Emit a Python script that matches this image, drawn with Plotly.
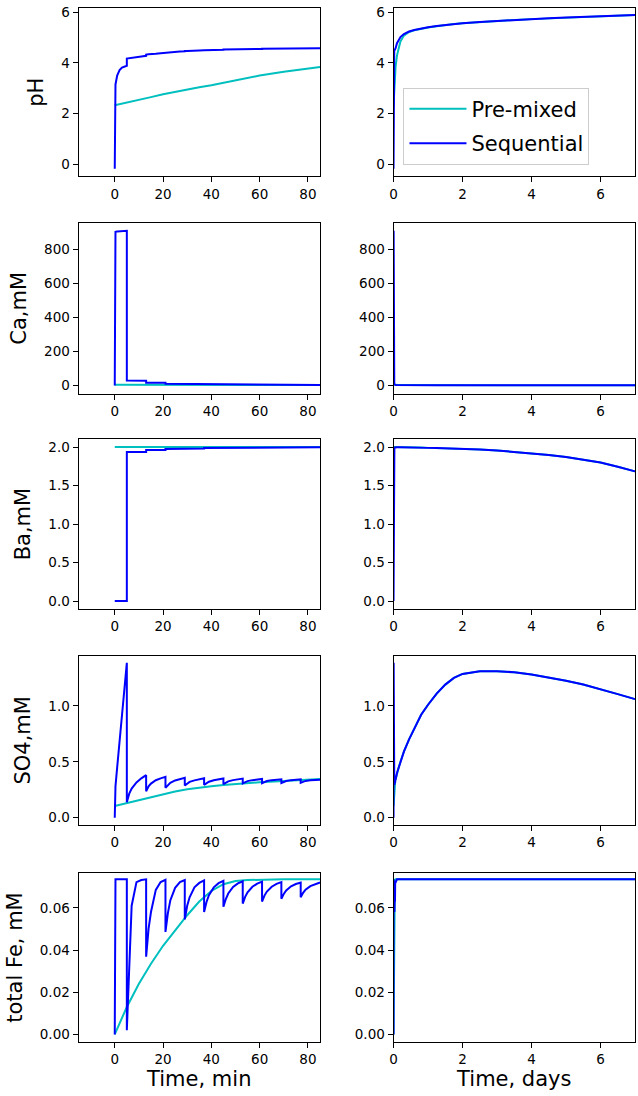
import plotly.graph_objects as go

# ---------------- data ----------------
# Pre-mixed, first 85 minutes
t_pm = [0, 5, 10, 15, 20, 25, 30, 35, 40, 45, 50, 55, 60, 70, 80, 85]
ph_pm = [2.33, 2.43, 2.54, 2.65, 2.76, 2.86, 2.95, 3.04, 3.12, 3.22, 3.31, 3.41, 3.50, 3.65, 3.78, 3.84]
ca_pm = [4.5, 4.4, 4.2, 4.0, 3.8, 3.6, 3.4, 3.2, 3.0, 2.9, 2.8, 2.7, 2.6, 2.4, 2.2, 2.1]
ba_pm = [2.0, 2.0, 2.0, 2.0, 2.0, 2.0, 2.0, 2.0, 2.0, 2.0, 2.0, 2.0, 2.0, 2.0, 2.0, 2.0]
so4_pm = [0.104, 0.13, 0.155, 0.185, 0.213, 0.235, 0.255, 0.27, 0.282, 0.293, 0.302, 0.31, 0.316, 0.328, 0.34, 0.345]
fe_pm = [0.0, 0.013, 0.024, 0.0335, 0.042, 0.0495, 0.0565, 0.063, 0.068, 0.0712, 0.0727, 0.0732, 0.0734, 0.0735, 0.0735, 0.0735]

# Sequential, first 85 minutes (injections every 8 min from t = 5)
t_seq = [0, 0.02, 0.3, 1, 2, 3, 4, 5,
         5, 6, 7, 9, 11, 13,
         13, 14, 15, 17, 19, 21,
         21, 22, 23, 25, 27, 29,
         29, 30, 31, 33, 35, 37,
         37, 38, 39, 41, 43, 45,
         45, 46, 47, 49, 51, 53,
         53, 54, 55, 57, 59, 61,
         61, 62, 63, 65, 67, 69,
         69, 70, 71, 73, 75, 77,
         77, 78, 79, 81, 83, 85]
ph_seq = [-0.18, 1.0, 3.15, 3.5, 3.72, 3.82, 3.86, 3.89,
          4.17, 4.18, 4.19, 4.22, 4.25, 4.28,
          4.33, 4.34, 4.34, 4.36, 4.38, 4.40,
          4.42, 4.42, 4.43, 4.44, 4.45, 4.46,
          4.47, 4.47, 4.47, 4.48, 4.49, 4.50,
          4.50, 4.50, 4.51, 4.51, 4.52, 4.52,
          4.53, 4.53, 4.53, 4.54, 4.54, 4.54,
          4.55, 4.55, 4.55, 4.55, 4.55, 4.55,
          4.56, 4.56, 4.56, 4.56, 4.56, 4.56,
          4.57, 4.57, 4.57, 4.57, 4.57, 4.57,
          4.58, 4.58, 4.58, 4.58, 4.58, 4.58]
ca_seq = [0, 897, 901, 903, 905, 906, 907, 907,
          29, 28.8, 28.6, 28.3, 28.0, 27.7,
          16, 15.8, 15.7, 15.5, 15.2, 15.0,
          10, 9.9, 9.9, 9.8, 9.7, 9.6,
          7.0, 6.9, 6.9, 6.8, 6.8, 6.7,
          5.5, 5.5, 5.4, 5.4, 5.3, 5.3,
          4.5, 4.5, 4.4, 4.4, 4.3, 4.3,
          3.8, 3.8, 3.7, 3.7, 3.6, 3.6,
          3.3, 3.3, 3.2, 3.2, 3.1, 3.1,
          2.9, 2.9, 2.8, 2.8, 2.7, 2.7,
          2.6, 2.6, 2.5, 2.5, 2.4, 2.4]
ba_seq = [0, 0, 0, 0, 0, 0, 0, 0,
          1.935, 1.935, 1.935, 1.935, 1.935, 1.935,
          1.962, 1.962, 1.962, 1.962, 1.962, 1.962,
          1.975, 1.975, 1.975, 1.975, 1.975, 1.975,
          1.983, 1.983, 1.983, 1.983, 1.983, 1.983,
          1.988, 1.988, 1.988, 1.988, 1.988, 1.988,
          1.991, 1.991, 1.991, 1.991, 1.991, 1.991,
          1.993, 1.993, 1.993, 1.993, 1.993, 1.993,
          1.995, 1.995, 1.995, 1.995, 1.995, 1.995,
          1.996, 1.996, 1.996, 1.996, 1.996, 1.996,
          1.997, 1.997, 1.997, 1.997, 1.997, 1.997]
so4_seq = [0, 0.2, 0.28, 0.45, 0.70, 0.94, 1.17, 1.385,
           0.139, 0.215, 0.26, 0.315, 0.352, 0.38,
           0.237, 0.28, 0.305, 0.335, 0.352, 0.365,
           0.267, 0.295, 0.312, 0.333, 0.347, 0.356,
           0.288, 0.308, 0.32, 0.334, 0.345, 0.353,
           0.294, 0.312, 0.322, 0.335, 0.344, 0.35,
           0.30, 0.316, 0.325, 0.336, 0.344, 0.35,
           0.306, 0.319, 0.327, 0.336, 0.343, 0.347,
           0.309, 0.321, 0.328, 0.336, 0.341, 0.344,
           0.31, 0.322, 0.328, 0.336, 0.341, 0.344,
           0.312, 0.323, 0.329, 0.335, 0.338, 0.34]
fe_seq = [0, 0.0735, 0.0735, 0.0735, 0.0735, 0.0735, 0.0735, 0.0735,
          0.002, 0.032, 0.061, 0.0722, 0.0732, 0.0735,
          0.0368, 0.05, 0.058, 0.0685, 0.0722, 0.0733,
          0.0486, 0.0575, 0.0635, 0.0695, 0.0722, 0.0732,
          0.0545, 0.061, 0.065, 0.0697, 0.0718, 0.073,
          0.058, 0.0628, 0.066, 0.0697, 0.0717, 0.0728,
          0.0605, 0.0642, 0.0668, 0.0699, 0.0716, 0.0726,
          0.062, 0.0652, 0.0674, 0.07, 0.0715, 0.0724,
          0.063, 0.0658, 0.0677, 0.07, 0.0714, 0.0722,
          0.0643, 0.0666, 0.0682, 0.0702, 0.0713, 0.072,
          0.065, 0.0671, 0.0686, 0.0703, 0.0713, 0.072]

# Long-term, days
t_day = [0.1, 0.15, 0.2, 0.3, 0.45, 0.6, 0.8, 1.0, 1.25, 1.5, 1.75, 2.0, 2.5, 3.0,
         3.5, 4.0, 4.5, 5.0, 5.5, 6.0, 6.5, 7.0]
ph_seq_d = [4.78, 4.93, 5.02, 5.14, 5.24, 5.30, 5.36, 5.41, 5.46, 5.50, 5.54, 5.57, 5.62, 5.66,
            5.70, 5.73, 5.76, 5.79, 5.82, 5.84, 5.87, 5.89]
ph_pm_d = [4.30, 4.65, 4.85, 5.08, 5.22, 5.29, 5.35, 5.40, 5.45, 5.50, 5.54, 5.57, 5.62, 5.66,
           5.70, 5.73, 5.76, 5.79, 5.82, 5.84, 5.87, 5.89]
ca_seq_d = [2.2, 2.1, 2.0, 1.9, 1.8, 1.7, 1.7, 1.6, 1.6, 1.6, 1.5, 1.5, 1.5, 1.5,
            1.5, 1.5, 1.5, 1.5, 1.5, 1.5, 1.5, 1.5]
ca_pm_d = [1.9, 1.8, 1.8, 1.7, 1.7, 1.6, 1.6, 1.6, 1.6, 1.5, 1.5, 1.5, 1.5, 1.5,
           1.5, 1.5, 1.5, 1.5, 1.5, 1.5, 1.5, 1.5]
ba_d = [1.998, 1.998, 1.997, 1.997, 1.996, 1.996, 1.994, 1.99, 1.988, 1.986, 1.983, 1.98, 1.97, 1.957,
        1.94, 1.92, 1.897, 1.87, 1.837, 1.80, 1.745, 1.685]
so4_d = [0.40, 0.45, 0.50, 0.59, 0.70, 0.80, 0.92, 1.01, 1.11, 1.19, 1.25, 1.285, 1.31, 1.31,
         1.30, 1.28, 1.255, 1.225, 1.19, 1.15, 1.105, 1.06]
fe_d = [0.0735, 0.0735, 0.0735, 0.0735, 0.0735, 0.0735, 0.0735, 0.0735, 0.0735, 0.0735, 0.0735,
        0.0735, 0.0735, 0.0735, 0.0735, 0.0735, 0.0735, 0.0735, 0.0735, 0.0735, 0.0735, 0.0735]

y_titles = ["pH", "Ca,mM", "Ba,mM", "SO4,mM", "total Fe, mM"]
y_ranges = [[-0.48, 6.17], [-48, 952], [-0.1, 2.1], [-0.065, 1.449], [-0.0037, 0.0766]]
y_ticks = [[0, 2, 4, 6], [0, 200, 400, 600, 800], [0, 0.5, 1.0, 1.5, 2.0], [0, 0.5, 1.0], [0, 0.02, 0.04, 0.06]]
y_fmt = ["d", "d", ".1f", ".1f", ".2f"]
x_ticks_min = [0, 20, 40, 60, 80]
x_ticks_day = [0, 2, 4, 6]

pm_early = [ph_pm, ca_pm, ba_pm, so4_pm, fe_pm]
seq_early = [ph_seq, ca_seq, ba_seq, so4_seq, fe_seq]
pm_long = [ph_pm_d, ca_pm_d, ba_d, so4_d, fe_d]
seq_long = [ph_seq_d, ca_seq_d, ba_d, so4_d, fe_d]

CYAN = "#00BFBF"
BLUE = "#0000FF"
FONT = "DejaVu Sans"
W, H = 638, 1096

fig = go.Figure()

tops = [4, 220, 437, 654, 872]
bots = [173, 391, 607, 824, 1042]
xcols = [(75, 318), (392, 635)]

t_pm_days = [t / 1440 for t in t_pm]
t_seq_days = [t / 1440 for t in t_seq]

layout = {}
for r in range(5):
    for c in range(2):
        idx = r * 2 + c + 1
        xa = "x" if idx == 1 else f"x{idx}"
        ya = "y" if idx == 1 else f"y{idx}"
        if c == 0:
            fig.add_trace(go.Scatter(x=t_pm, y=pm_early[r], mode="lines", name="Pre-mixed",
                                     line=dict(color=CYAN, width=2), xaxis=xa, yaxis=ya,
                                     showlegend=False))
            fig.add_trace(go.Scatter(x=t_seq, y=seq_early[r], mode="lines", name="Sequential",
                                     line=dict(color=BLUE, width=2), xaxis=xa, yaxis=ya,
                                     showlegend=False))
        else:
            fig.add_trace(go.Scatter(x=t_pm_days + t_day, y=pm_early[r] + pm_long[r], mode="lines",
                                     name="Pre-mixed", line=dict(color=CYAN, width=2),
                                     legendgroup="a",
                                     xaxis=xa, yaxis=ya, showlegend=(r == 0)))
            fig.add_trace(go.Scatter(x=t_seq_days + t_day, y=seq_early[r] + seq_long[r], mode="lines",
                                     name="Sequential", line=dict(color=BLUE, width=2),
                                     legendgroup="b",
                                     xaxis=xa, yaxis=ya, showlegend=(r == 0)))
        common = dict(showline=True, mirror=True, linecolor="black", linewidth=1,
                      ticks="outside", ticklen=5, tickwidth=1, tickcolor="black",
                      showgrid=False, zeroline=False,
                      tickfont=dict(family=FONT, size=13.5, color="black"))
        xkey = "xaxis" if idx == 1 else f"xaxis{idx}"
        ykey = "yaxis" if idx == 1 else f"yaxis{idx}"
        x0, x1 = xcols[c]
        xd = dict(common, domain=[x0 / W, x1 / W], anchor=ya)
        if c == 0:
            xd.update(range=[-15, 85], tickvals=x_ticks_min)
        else:
            xd.update(range=[0, 7], tickvals=x_ticks_day)
        if r == 4:
            xd["title"] = dict(text="Time, min" if c == 0 else "Time, days",
                               font=dict(family=FONT, size=21, color="black"), standoff=4)
        yd = dict(common, domain=[1 - bots[r] / H, 1 - tops[r] / H], anchor=xa,
                  range=y_ranges[r], tickvals=y_ticks[r], tickformat=y_fmt[r])
        if c == 0:
            yd["title"] = dict(text=y_titles[r], font=dict(family=FONT, size=21, color="black"),
                               standoff=11)
        layout[xkey] = xd
        layout[ykey] = yd

fig.update_layout(**layout)
fig.update_layout(
    width=W, height=H,
    margin=dict(l=0, r=0, t=0, b=0),
    paper_bgcolor="white", plot_bgcolor="white",
    font=dict(family=FONT, color="black"),
    legend=dict(x=402 / W, y=1 - 84 / H, xanchor="left", yanchor="top",
                bgcolor="rgba(255,255,255,0.8)", bordercolor="#cccccc", borderwidth=1,
                font=dict(family=FONT, size=21, color="black"), itemwidth=57,
                tracegroupgap=4),
)

fig.write_html("out.html", config={"displayModeBar": False},
               post_script="document.body.style.margin='0';document.body.style.overflow='hidden';")
